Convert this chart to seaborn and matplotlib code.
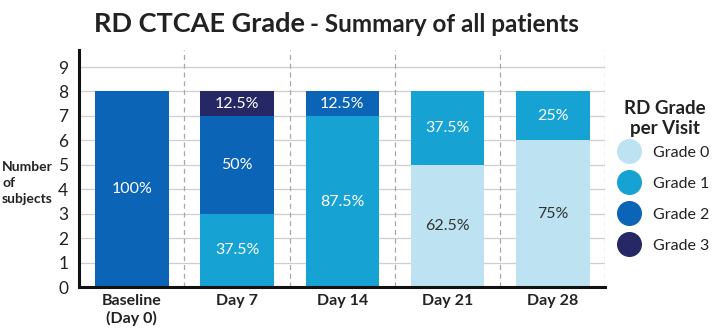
import matplotlib
matplotlib.use("Agg")
import matplotlib.pyplot as plt
from matplotlib.lines import Line2D
import seaborn as sns
import numpy as np
import pandas as pd

visits = ["Baseline\n(Day 0)", "Day 7", "Day 14", "Day 21", "Day 28"]
grades = ["Grade 0", "Grade 1", "Grade 2", "Grade 3"]
grade0 = [0, 0, 0, 5, 6]
grade1 = [0, 3, 7, 3, 2]
grade2 = [8, 4, 1, 0, 0]
grade3 = [0, 1, 0, 0, 0]
colors = ["#bde3f2", "#16a2d3", "#0b64b6", "#262866"]
text_colors = ["#333333", "white", "white", "white"]
yticks = list(range(0, 10))

sns.set_theme(style="white")
plt.rcParams["font.family"] = ["Lato", "DejaVu Sans"]

series = [grade0, grade1, grade2, grade3]
counts = np.array(series, dtype=float)
cum = np.cumsum(counts, axis=0)
totals = counts.sum(axis=0)

fig = plt.figure(figsize=(7.14, 3.35), dpi=100)
ax = fig.add_axes([0.111, 0.143, 0.737, 0.708])

for y in yticks:
    ax.axhline(y, color="#cfcfcf", lw=0.9, zorder=0)

for i in range(len(grades) - 1, -1, -1):
    df = pd.DataFrame({"visit": visits, "value": cum[i]})
    sns.barplot(data=df, x="visit", y="value", color=colors[i], width=0.7,
                saturation=1, ax=ax, zorder=2, errorbar=None, linewidth=0,
                edgecolor=colors[i])

for i in range(len(grades)):
    for j in range(len(visits)):
        v = counts[i, j]
        if v > 0:
            pct = v / totals[j] * 100
            s = f"{pct:g}%"
            ax.text(j, cum[i, j] - v / 2, s, ha="center", va="center",
                    color=text_colors[i], fontsize=11.5, zorder=5)

for x in np.arange(0.5, len(visits), 1.0):
    ax.axvline(x, color="#a8a8a8", lw=0.9, ls=(0, (4, 3)), zorder=1)

ax.set_xlim(-0.5, len(visits) - 0.5)
ax.set_ylim(0, 9.7)
ax.set_yticks(yticks)
ax.tick_params(axis="y", labelsize=12.5, length=0, pad=8, colors="#222222")
ax.tick_params(axis="x", labelsize=11.5, length=0, pad=5, colors="#222222")
for lab in ax.get_xticklabels():
    lab.set_fontweight("bold")
ax.set_xlabel("")
ax.set_ylabel("")
for s in ["top", "right"]:
    ax.spines[s].set_visible(False)
for s in ["left", "bottom"]:
    ax.spines[s].set_color("#111111")
    ax.spines[s].set_linewidth(2.2)

fig.text(0.003, 0.455, "Number\nof\nsubjects", ha="left", va="center",
         fontsize=10, fontweight="bold", color="#222222", linespacing=1.4)

fig.text(305 / 714, 1 - 32 / 335, "RD CTCAE Grade", ha="right", va="baseline",
         fontsize=19.5, fontweight="bold", color="#222222")
fig.text(310 / 714, 1 - 32 / 335, "- Summary of all patients", ha="left", va="baseline",
         fontsize=17.5, fontweight="bold", color="#222222")

handles = [Line2D([0], [0], marker="o", ls="", markersize=17,
                  markerfacecolor=c, markeredgecolor=c) for c in colors]
leg = fig.legend(handles, grades, loc="upper left", bbox_to_anchor=(0.868, 0.70),
                 frameon=False, fontsize=11.5, labelspacing=1.05, handletextpad=0.9,
                 handlelength=1.2, borderaxespad=0, borderpad=0,
                 title="RD Grade\nper Visit", title_fontproperties={"weight": "bold", "size": 13.5})
leg.get_title().set_color("#222222")
leg.get_title().set_multialignment("center")
leg._legend_box.align = "center"
leg._legend_box.sep = 6
for t in leg.get_texts():
    t.set_color("#222222")

fig.savefig("out.png", dpi=100)
